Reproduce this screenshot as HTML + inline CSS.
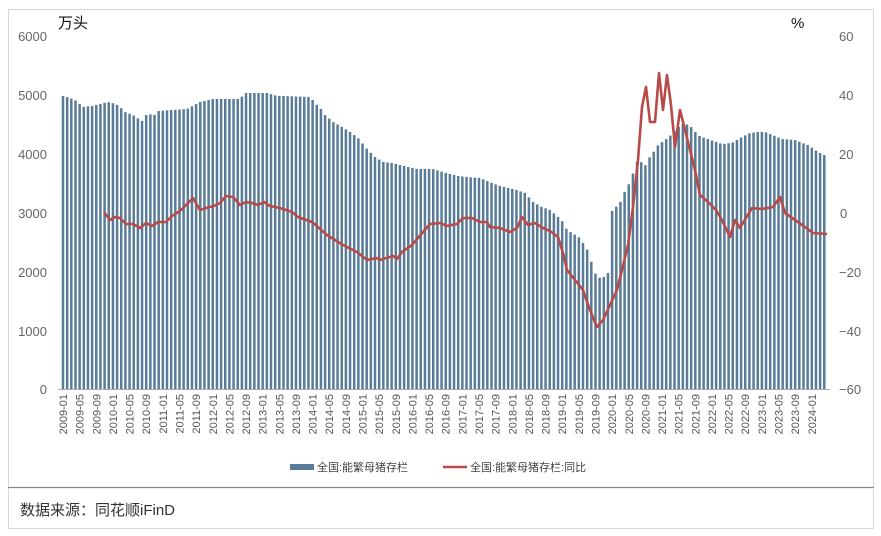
<!DOCTYPE html>
<html><head><meta charset="utf-8">
<style>
body{margin:0;background:#fff;}
svg{display:block;font-family:"Liberation Sans","Noto Sans CJK SC",sans-serif;}
</style></head><body>
<svg id="s" width="881" height="536" xmlns="http://www.w3.org/2000/svg">
<rect x="8.5" y="9.5" width="865" height="519" fill="#fff" stroke="#d8d8d8"/>
<line x1="8" y1="487.5" x2="874" y2="487.5" stroke="#888" stroke-width="1.2"/>
<text x="58" y="28" font-size="15" fill="#111">万头</text>
<text x="791" y="28" font-size="15" fill="#111">%</text>
<g font-size="13" fill="#666" text-anchor="end">
<text x="47" y="41">6000</text><text x="47" y="100">5000</text><text x="47" y="159">4000</text>
<text x="47" y="218">3000</text><text x="47" y="277">2000</text><text x="47" y="336">1000</text><text x="47" y="394">0</text>
</g>
<g font-size="13" fill="#666">
<text x="839" y="41">60</text><text x="839" y="100">40</text><text x="839" y="159">20</text>
<text x="840" y="218">0</text><text x="839" y="277">−20</text><text x="839" y="336">−40</text><text x="839" y="394">−60</text>
</g>
<g id="bars" fill="#587c98"></g>
<line x1="58" y1="389.5" x2="830" y2="389.5" stroke="#aaa"/>
<g id="xl" font-size="11" fill="#555" text-anchor="end"></g>
<polyline id="ln" fill="none" stroke="#b84a48" stroke-width="2.6" stroke-linejoin="round"/>
<rect x="290" y="464" width="24" height="6" fill="#587c98"/>
<text x="317" y="471" font-size="11" fill="#444">全国:能繁母猪存栏</text>
<line x1="443" y1="467" x2="467" y2="467" stroke="#b84a48" stroke-width="2.6"/>
<text x="470" y="471" font-size="11" fill="#444">全国:能繁母猪存栏:同比</text>
<text x="20" y="515" font-size="15" fill="#333">数据来源：同花顺iFinD</text>
</svg>
<script>
var NS="http://www.w3.org/2000/svg";
var kp=[[63,96],[67,97],[75,100],[83,107],[92,106],[100,104],[108,102],[116,104],[120,107],[125,112],[133,115],[142,121],[147,114],[155,115],[158,111],[187,109],[200,102],[213,99],[240,99],[245,93],[267,93],[277,96],[283,96],[310,97],[316,104],[321,109],[325,115],[333,122],[342,127],[350,132],[358,138],[367,149],[375,157],[383,162],[392,163],[404,166],[417,169],[433,169],[446,173],[458,176],[467,177],[480,178],[492,183],[500,186],[517,190],[525,193],[533,202],[542,207],[550,210],[558,217],[563,222],[567,230],[580,238],[588,251],[592,264],[596,275],[600,278],[604,277],[608,273],[611,271],[612,211],[616,207],[620,203],[624,193],[628,186],[632,177],[636,162],[640,161],[645,166],[649,158],[653,153],[657,146],[661,143],[665,140],[669,137],[673,133],[677,128],[681,125],[685,123],[689,126],[693,128],[697,135],[702,137],[722,144],[732,143],[740,138],[750,133],[759,132],[765,132],[770,134],[782,139],[795,140],[808,145],[818,152],[826,156],[900,156]];
function interp(x){for(var i=0;i<kp.length-1;i++){if(x>=kp[i][0]&&x<=kp[i+1][0]){var t=(x-kp[i][0])/(kp[i+1][0]-kp[i][0]);return kp[i][1]+t*(kp[i+1][1]-kp[i][1]);}}return kp[0][1];}
var g=document.getElementById("bars"),xl=document.getElementById("xl");
for(var i=0;i<184;i++){var x=63+i*4.16;var y=interp(x);
var r=document.createElementNS(NS,"rect");r.setAttribute("x",(x-1.25).toFixed(2));r.setAttribute("y",y.toFixed(1));r.setAttribute("width","2.5");r.setAttribute("height",(389-y).toFixed(1));g.appendChild(r);
if(i%4==0){var yr=2009+Math.floor(i/12),m=i%12+1;var t=document.createElementNS(NS,"text");t.setAttribute("transform","translate("+(x+4).toFixed(1)+",394) rotate(-90)");t.textContent=yr+"-"+(m<10?"0":"")+m;xl.appendChild(t);}}
var pts=[[104,212],[110,220],[115,217],[120,218],[126,224],[133,224],[140,228],[146,223],[152,226],[158,222],[166,222],[172,216],[180,211],[188,203],[193,198],[200,210],[206,208],[214,206],[220,203],[226,196],[233,197],[240,205],[246,202],[252,203],[258,205],[264,202],[270,206],[280,208],[292,212],[298,217],[312,222],[327,235],[343,245],[357,252],[367,260],[377,258],[380,260],[393,256],[397,259],[402,252],[412,245],[423,232],[430,224],[440,223],[447,226],[457,224],[463,218],[472,218],[480,222],[487,222],[490,227],[500,228],[510,232],[517,228],[522,217],[528,225],[535,223],[543,228],[550,231],[558,237],[563,253],[567,270],[575,280],[583,290],[590,310],[597,327],[603,320],[610,305],[617,290],[622,270],[628,245],[633,207],[638,160],[642,107],[646,87],[650,122],[655,122],[659,73],[663,110],[667,75],[671,105],[675,147],[680,110],[685,130],[690,150],[695,170],[700,195],[708,202],[716,210],[722,220],[730,237],[735,220],[740,228],[746,218],[752,208],[762,209],[773,207],[780,197],[785,213],[795,220],[805,227],[813,233],[827,234]];
document.getElementById("ln").setAttribute("points",pts.map(function(p){return p.join(",")}).join(" "));
</script>
</body></html>
